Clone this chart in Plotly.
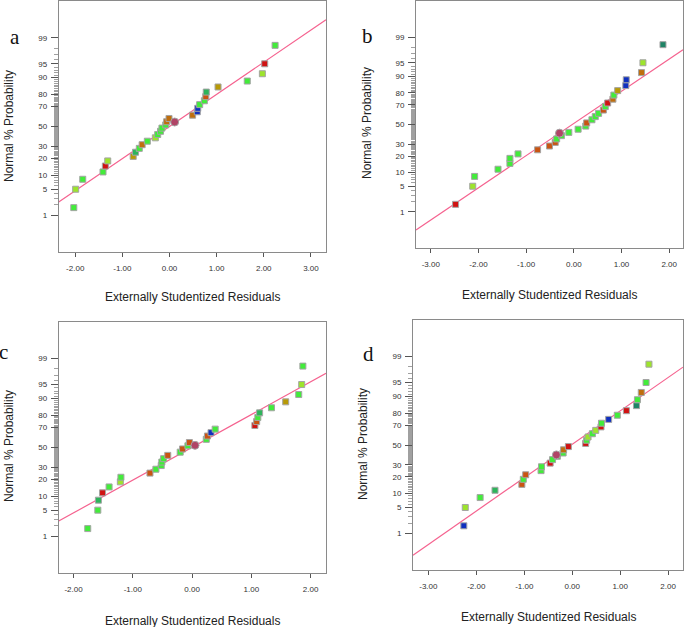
import plotly.graph_objects as go
from statistics import NormalDist

# ---------------- data ----------------
prob_pct = [1.67, 5, 8.33, 11.67, 15, 18.33, 21.67, 25, 28.33, 31.67, 35, 38.33,
            41.67, 45, 48.33, 51.67, 55, 58.33, 61.67, 65, 68.33, 71.67, 75,
            78.33, 81.67, 85, 88.33, 91.67, 95, 98.33]

res_a = [-2.03, -1.99, -1.84, -1.41, -1.36, -1.31, -0.77, -0.72, -0.64, -0.58,
         -0.47, -0.30, -0.25, -0.19, -0.16, -0.08, -0.06, -0.01, 0.49, 0.59,
         0.60, 0.64, 0.74, 0.77, 0.78, 1.03, 1.65, 1.97, 2.02, 2.24]
col_a = list("GLGGRLOTGBGLGGGGBBBUUGGNTOGLRG")

res_b = [-2.48, -2.12, -2.08, -1.59, -1.34, -1.34, -1.17, -0.76, -0.51, -0.39,
         -0.36, -0.26, -0.105, 0.09, 0.25, 0.27, 0.38, 0.45, 0.52, 0.62,
         0.66, 0.71, 0.82, 0.84, 0.92, 1.09, 1.10, 1.42, 1.45, 1.87]
col_b = list("RLGGGGGNNNGGGGGNGGGNGRBGOUUBLD")

res_c = [-1.76, -1.59, -1.58, -1.51, -1.40, -1.21, -1.20, -0.71, -0.61, -0.52,
         -0.51, -0.48, -0.41, -0.20, -0.16, -0.07, -0.045, 0.24, 0.26, 0.32,
         0.39, 1.06, 1.09, 1.11, 1.14, 1.34, 1.58, 1.80, 1.85, 1.87]
col_c = list("GGTRGLGNGGGGNGNGNGNUGRNGTGOGLG")

res_d = [-2.26, -2.23, -1.92, -1.61, -1.05, -1.02, -0.97, -0.65, -0.64, -0.46,
         -0.41, -0.31, -0.19, -0.18, -0.08, 0.28, 0.30, 0.33, 0.42, 0.49,
         0.60, 0.61, 0.76, 0.94, 1.13, 1.34, 1.36, 1.44, 1.54, 1.60]
col_d = list("ULGTNGNGGRGGGBRRGLGLRGUGRDGBGL")

# circle markers (x residual, % probability)
circle_a = [0.11, 54.7]
circle_b = [-0.30, 40.9]
circle_c = [0.05, 52.1]
circle_d = [-0.33, 39.7]

# fitted reference lines: [slope, intercept] in z-units
fit_a = [0.843, 0.0]
fit_b = [0.857, 0.027]
fit_c = [0.858, 0.0]
fit_d = [0.879, 0.019]

xrange_a = [-2.35, 3.32]
xrange_b = [-3.31, 2.29]
xrange_c = [-2.25, 2.26]
xrange_d = [-3.32, 2.31]

xticks_a = [-2, -1, 0, 1, 2, 3]
xticks_b = [-3, -2, -1, 0, 1, 2]
xticks_c = [-2, -1, 0, 1, 2]
xticks_d = [-3, -2, -1, 0, 1, 2]

yticks_pct = [1, 5, 10, 20, 30, 50, 70, 80, 90, 95, 99]
panel_letters = ["a", "b", "c", "d"]

# ---------------- style ----------------
palette = {
    "G": "#42ec3a", "L": "#9de42c", "T": "#2db45a", "R": "#d01212",
    "N": "#c95412", "B": "#bf6e0e", "O": "#b89a06", "U": "#1030bf",
    "D": "#1f8466",
}
circle_color = "#b04466"
line_color = "#f5628f"
frame_color = "#8a8a8a"
tick_font = dict(family="Liberation Sans, Arial", size=8, color="#333333")

W, H = 685, 627
nd = NormalDist()
z = lambda p: nd.inv_cdf(p / 100.0)

panels = [
    dict(res=res_a, col=col_a, circ=circle_a, fit=fit_a, xr=xrange_a, xt=xticks_a,
         box=(58.7, 326, 1, 252), letter=(15, 37), ytitle=(9, 126), xtitle=(192, 297)),
    dict(res=res_b, col=col_b, circ=circle_b, fit=fit_b, xr=xrange_b, xt=xticks_b,
         box=(416, 683, 1, 248), letter=(367, 36), ytitle=(367, 123), xtitle=(549, 295)),
    dict(res=res_c, col=col_c, circ=circle_c, fit=fit_c, xr=xrange_c, xt=xticks_c,
         box=(58.7, 326, 321.7, 573), letter=(3, 352), ytitle=(9, 446), xtitle=(192, 621)),
    dict(res=res_d, col=col_d, circ=circle_d, fit=fit_d, xr=xrange_d, xt=xticks_d,
         box=(413, 683, 320, 570), letter=(368, 354), ytitle=(363, 444), xtitle=(548, 617)),
]

fig = go.Figure()
minor_pct = [p for p in range(2, 99) if p not in yticks_pct]
yr = [z(0.05), z(99.95)]
annotations = []

for i, P in enumerate(panels):
    n = i + 1
    xa = "x" if n == 1 else f"x{n}"
    ya = "y" if n == 1 else f"y{n}"
    slope, icpt = P["fit"]
    xs = P["xr"]
    fig.add_trace(go.Scatter(x=xs, y=[slope * v + icpt for v in xs], mode="lines",
                             line=dict(color=line_color, width=1.2),
                             xaxis=xa, yaxis=ya, showlegend=False, hoverinfo="skip"))
    fig.add_trace(go.Scatter(x=P["res"], y=[z(p) for p in prob_pct], mode="markers",
                             marker=dict(symbol="square", size=6,
                                         color=[palette[c] for c in P["col"]],
                                         line=dict(color="#a4a4a4", width=1)),
                             xaxis=xa, yaxis=ya, showlegend=False))
    fig.add_trace(go.Scatter(x=[P["circ"][0]], y=[z(P["circ"][1])], mode="markers",
                             marker=dict(symbol="circle", size=8, color=circle_color,
                                         line=dict(color="#a4a4a4", width=1)),
                             xaxis=xa, yaxis=ya, showlegend=False))
    l, r, t, b = P["box"]
    xkey = "xaxis" if n == 1 else f"xaxis{n}"
    ykey = "yaxis" if n == 1 else f"yaxis{n}"
    fig.update_layout(**{
        xkey: dict(domain=[l / W, r / W], range=P["xr"], anchor=ya,
                   tickmode="array", tickvals=P["xt"],
                   ticktext=[f"{v:.2f}" for v in P["xt"]],
                   ticks="outside", ticklen=4, tickcolor="#555555", tickwidth=1,
                   tickfont=tick_font, ticklabelstandoff=4,
                   showline=True, linecolor=frame_color, linewidth=1, mirror=True,
                   showgrid=False, zeroline=False),
        ykey: dict(domain=[1 - b / H, 1 - t / H], range=yr, anchor=xa,
                   tickmode="array", tickvals=[z(p) for p in yticks_pct],
                   ticktext=[str(p) for p in yticks_pct],
                   ticks="outside", ticklen=7, tickcolor="#555555", tickwidth=1,
                   tickfont=tick_font, ticklabelstandoff=2,
                   minor=dict(tickmode="array", tickvals=[z(p) for p in minor_pct],
                              ticks="outside", ticklen=4, tickcolor="#a0a0a0",
                              tickwidth=0.8, showgrid=False),
                   showline=True, linecolor=frame_color, linewidth=1, mirror=True,
                   showgrid=False, zeroline=False),
    })
    lx, ly = P["letter"]
    annotations.append(dict(x=lx / W, y=1 - ly / H, xref="paper", yref="paper",
                            xanchor="center", yanchor="middle",
                            text=panel_letters[i], showarrow=False,
                            font=dict(family="Liberation Serif, Times New Roman", size=21,
                                      color="#111111")))
    tx, ty = P["ytitle"]
    annotations.append(dict(x=tx / W, y=1 - ty / H, xref="paper", yref="paper",
                            xanchor="center", yanchor="middle",
                            text="Normal % Probability", textangle=-90, showarrow=False,
                            font=dict(family="Liberation Sans, Arial", size=12,
                                      color="#222222")))
    tx, ty = P["xtitle"]
    annotations.append(dict(x=tx / W, y=1 - ty / H, xref="paper", yref="paper",
                            xanchor="center", yanchor="middle",
                            text="Externally Studentized Residuals", showarrow=False,
                            font=dict(family="Liberation Sans, Arial", size=12,
                                      color="#222222")))

fig.update_layout(width=W, height=H, margin=dict(l=0, r=0, t=0, b=0),
                  paper_bgcolor="white", plot_bgcolor="white",
                  annotations=annotations)

fig.write_html("out.html", config={"displayModeBar": False},
               post_script="document.body.style.margin='0';document.body.style.padding='0';"
                           "document.documentElement.style.overflow='hidden';")
